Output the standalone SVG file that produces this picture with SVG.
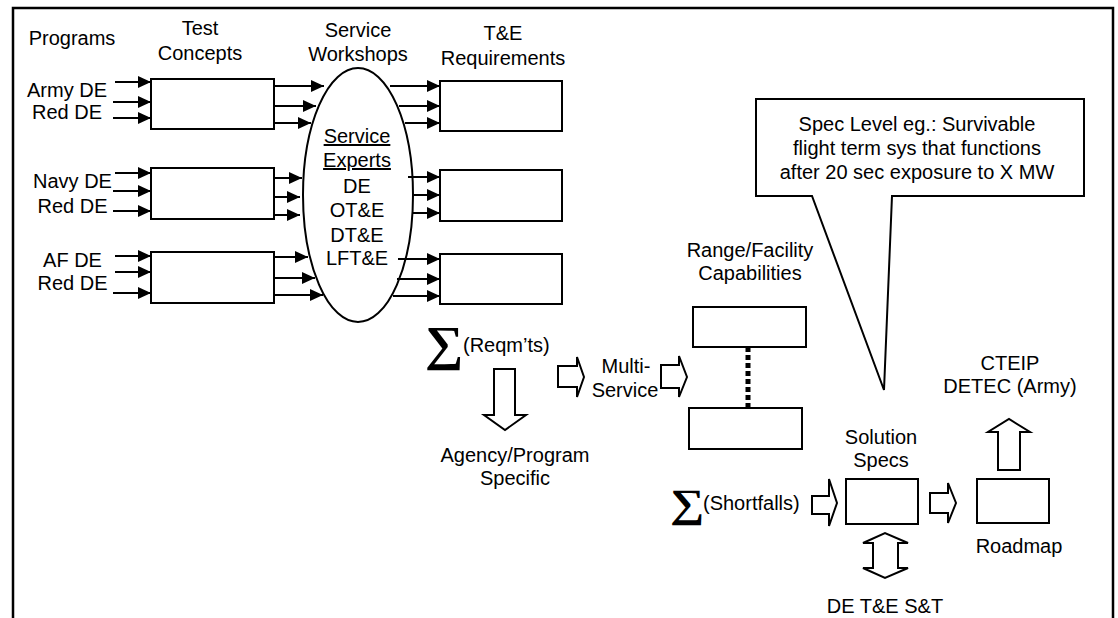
<svg xmlns="http://www.w3.org/2000/svg" width="1118" height="618" viewBox="0 0 1118 618">
<style>
text{font-family:"Liberation Sans",Arial,sans-serif;font-size:20px;fill:#000;text-anchor:middle}
.l{text-anchor:start}
.sig{font-family:"Liberation Serif","DejaVu Serif",serif;text-anchor:start;font-weight:bold}
.s1{font-size:49px}
.s2{font-size:40px}
.box{fill:#fff;stroke:#000;stroke-width:2}
.blk{fill:#fff;stroke:#000;stroke-width:2;stroke-linejoin:miter}
.ar{stroke:#000;stroke-width:2;fill:none;marker-end:url(#ah)}
</style>
<defs>
<marker id="ah" markerUnits="userSpaceOnUse" markerWidth="14" markerHeight="12" refX="13" refY="6" orient="auto">
<path d="M0,0 L13,6 L0,12 z" fill="#000"/>
</marker>
</defs>
<rect width="1118" height="618" fill="#fff"/>
<path id="frame" d="M13,618 V8 H1113 V618" fill="none" stroke="#000" stroke-width="2.5"/>

<g id="headers">
<text x="72" y="45">Programs</text>
<text x="200" y="35">Test</text>
<text x="200" y="60">Concepts</text>
<text x="358" y="37">Service</text>
<text x="358" y="61">Workshops</text>
<text x="503" y="40">T&amp;E</text>
<text x="503" y="65">Requirements</text>
</g>

<g id="programs">
<text x="67" y="97">Army DE</text>
<text x="67" y="119">Red DE</text>
<text x="72.5" y="188">Navy DE</text>
<text x="72.5" y="213">Red DE</text>
<text x="72.5" y="267">AF DE</text>
<text x="72.5" y="290">Red DE</text>
</g>

<g id="test-concepts">
<rect class="box" x="151" y="79" width="123" height="50"/>
<rect class="box" x="151" y="168" width="123" height="51"/>
<rect class="box" x="151" y="252" width="123" height="51"/>
</g>

<g id="service-workshop">
<ellipse cx="358" cy="195" rx="55" ry="127" fill="#fff" stroke="#000" stroke-width="2"/>
<text x="357" y="143" text-decoration="underline">Service</text>
<text x="357" y="167" text-decoration="underline">Experts</text>
<text x="357" y="193">DE</text>
<text x="357" y="217">OT&amp;E</text>
<text x="357" y="242">DT&amp;E</text>
<text x="357" y="265">LFT&amp;E</text>
</g>

<g id="te-requirements">
<rect class="box" x="440" y="81" width="122" height="50"/>
<rect class="box" x="440" y="170" width="122" height="51"/>
<rect class="box" x="440" y="254" width="122" height="50"/>
</g>

<g id="connectors">
<line class="ar" x1="115" y1="82" x2="151" y2="82"/>
<line class="ar" x1="113" y1="102" x2="151" y2="102"/>
<line class="ar" x1="113" y1="118" x2="151" y2="118"/>
<line class="ar" x1="115" y1="173" x2="151" y2="173"/>
<line class="ar" x1="113" y1="191" x2="151" y2="191"/>
<line class="ar" x1="113" y1="211" x2="151" y2="211"/>
<line class="ar" x1="115" y1="256" x2="151" y2="256"/>
<line class="ar" x1="115" y1="272" x2="151" y2="272"/>
<line class="ar" x1="113" y1="293" x2="151" y2="293"/>

<line class="ar" x1="274" y1="86" x2="324" y2="86"/>
<line class="ar" x1="274" y1="106" x2="316" y2="106"/>
<line class="ar" x1="274" y1="123" x2="311" y2="123"/>
<line class="ar" x1="274" y1="178" x2="302" y2="178"/>
<line class="ar" x1="274" y1="197" x2="300" y2="197"/>
<line class="ar" x1="274" y1="215" x2="300" y2="215"/>
<line class="ar" x1="274" y1="257" x2="308" y2="257"/>
<line class="ar" x1="274" y1="278" x2="315" y2="278"/>
<line class="ar" x1="274" y1="295" x2="323" y2="295"/>

<line class="ar" x1="390" y1="86" x2="440" y2="86"/>
<line class="ar" x1="399" y1="106" x2="440" y2="106"/>
<line class="ar" x1="405" y1="123" x2="440" y2="123"/>
<line class="ar" x1="408" y1="177" x2="440" y2="177"/>
<line class="ar" x1="414" y1="195" x2="440" y2="195"/>
<line class="ar" x1="413" y1="213" x2="440" y2="213"/>
<line class="ar" x1="398" y1="259" x2="440" y2="259"/>
<line class="ar" x1="397" y1="279" x2="440" y2="279"/>
<line class="ar" x1="393" y1="296" x2="440" y2="296"/>

<line x1="748" y1="347" x2="748" y2="408" stroke="#000" stroke-width="5" stroke-dasharray="5 3"/>

<polygon class="blk" points="494,369 515,369 515,415 526,415 505,430 484,415 494,415"/>
<polygon class="blk" points="558,366 577,366 577,357 584,377 577,397 577,387 558,387"/>
<polygon class="blk" points="661,365 679,365 679,356 687,377 679,397 679,388 661,388"/>
<polygon class="blk" points="812,496 829,496 829,479 837,503 829,526 829,514 812,514"/>
<polygon class="blk" points="930,493 948,493 948,483 956,503 948,523 948,513 930,513"/>
<polygon class="blk" points="998,470 1020,470 1020,432 1030,432 1009,419 988,432 998,432"/>
<polygon class="blk" points="873,543 863,543 885,533 908,543 898,543 898,568 908,568 885,578 863,568 873,568"/>
</g>

<g id="sum-reqmts">
<text class="sig s1" transform="translate(425 360) scale(1.1 1)">∑</text>
<text class="l" x="463" y="352">(Reqm’ts)</text>
</g>

<g id="agency">
<text x="515" y="462">Agency/Program</text>
<text x="515" y="485">Specific</text>
</g>

<g id="multi-service">
<text x="626" y="373">Multi-</text>
<text x="625" y="397">Service</text>
</g>

<g id="range-facility">
<text x="750" y="257">Range/Facility</text>
<text x="750" y="280">Capabilities</text>
<rect class="box" x="693" y="307" width="113" height="40"/>
<rect class="box" x="689" y="408" width="113" height="41"/>
</g>

<g id="callout">
<path d="M756,99 H1084 V196 H892 L884,390 L812,196 H756 Z" fill="#fff" stroke="#000" stroke-width="2"/>
<text x="917" y="131">Spec Level eg.: Survivable</text>
<text x="917" y="155">flight term sys that functions</text>
<text x="917" y="179">after 20 sec exposure to X MW</text>
</g>

<g id="sum-shortfalls">
<text class="sig s2" transform="translate(670 517) scale(1.2 1)">∑</text>
<text class="l" x="703" y="510">(Shortfalls)</text>
</g>

<g id="solution-specs">
<text x="881" y="444">Solution</text>
<text x="881" y="467">Specs</text>
<rect class="box" x="846" y="479" width="72" height="45"/>
</g>

<g id="de-te-st">
<text x="885" y="613">DE T&amp;E S&amp;T</text>
</g>

<g id="roadmap">
<rect class="box" x="977" y="479" width="72" height="44"/>
<text x="1019" y="553">Roadmap</text>
</g>

<g id="cteip">
<text x="1010" y="370">CTEIP</text>
<text x="1010" y="393">DETEC (Army)</text>
</g>
</svg>
